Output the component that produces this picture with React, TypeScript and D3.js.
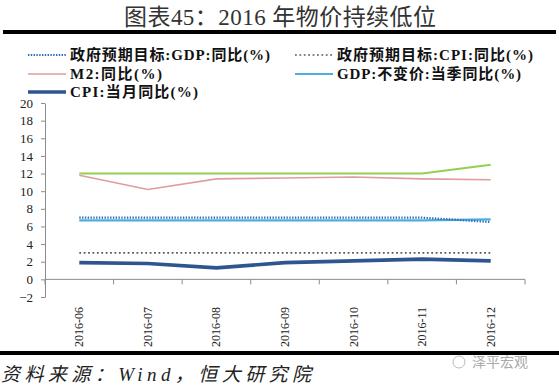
import React, { useEffect, useRef } from 'react'
import * as d3 from 'd3'

const months = ['2016-06', '2016-07', '2016-08', '2016-09', '2016-10', '2016-11', '2016-12']
const gdpTarget = [7, 7, 7, 7, 7, 7, 6.5]
const cpiTarget = [3, 3, 3, 3, 3, 3, 3]
const m2 = [11.8, 10.2, 11.4, 11.5, 11.6, 11.4, 11.3]
const gdp = [6.7, 6.7, 6.7, 6.7, 6.7, 6.7, 6.8]
const cpi = [1.9, 1.8, 1.3, 1.9, 2.1, 2.3, 2.1]
const m2Target = [12, 12, 12, 12, 12, 12, 13]
const yTicks = [-2, 0, 2, 4, 6, 8, 10, 12, 14, 16, 18, 20]

const serif = '"Liberation Serif", "Times New Roman", "Noto Sans CJK SC", serif'

export default function App() {
  const ref = useRef<SVGSVGElement>(null)

  useEffect(() => {
    const svg = d3.select(ref.current)
    svg.selectAll('*').remove()

    const width = 559
    const height = 387

    const x = d3.scaleBand().domain(months).range([45, 525]).padding(0)
    const y = d3.scaleLinear().domain([-2, 20]).range([297, 103])
    const cx = (d: string) => (x(d) as number) + x.bandwidth() / 2

    svg.attr('width', width).attr('height', height)

    /* Title */
    svg.append('text')
      .attr('x', 280).attr('y', 25)
      .attr('text-anchor', 'middle')
      .attr('font-family', serif)
      .attr('font-size', 23)
      .attr('fill', '#333')
      .attr('textLength', 312)
      .text('图表45：2016 年物价持续低位')
    svg.append('rect').attr('x', 3).attr('y', 30).attr('width', 553).attr('height', 4).attr('fill', '#000')

    /* Y axis */
    const yAxis = d3.axisLeft(y).tickValues(yTicks).tickSize(4).tickSizeOuter(0)
    const gy = svg.append('g').attr('transform', 'translate(45,0)').call(yAxis)
    gy.select('.domain').attr('stroke', '#8c8c8c')
    gy.selectAll('.tick line').attr('stroke', '#8c8c8c')
    gy.selectAll('.tick text')
      .attr('font-family', serif).attr('font-size', 13).attr('fill', '#222')
      .attr('x', -12)

    /* zero line + x ticks */
    const y0 = y(0)
    svg.append('line').attr('x1', 45).attr('x2', 525).attr('y1', y0).attr('y2', y0).attr('stroke', '#8c8c8c')
    const bounds = months.map((m) => x(m) as number).concat([525])
    svg.append('g').selectAll('line').data(bounds).enter().append('line')
      .attr('x1', (d) => d).attr('x2', (d) => d)
      .attr('y1', y0).attr('y2', y0 + 5)
      .attr('stroke', '#8c8c8c')
    svg.append('g').selectAll('text').data(months).enter().append('text')
      .attr('transform', (d) => `translate(${cx(d) + 4},307) rotate(-90)`)
      .attr('text-anchor', 'end')
      .attr('font-family', serif).attr('font-size', 12).attr('fill', '#222')
      .text((d) => d)

    /* Lines */
    const line = (vals: number[]) =>
      d3.line<number>().x((_, i) => cx(months[i])).y((d) => y(d))(vals)

    const series = [
      { vals: m2Target, color: '#92d050', w: 2, dash: null },
      { vals: m2, color: '#e09c9c', w: 1.6, dash: null },
      { vals: gdp, color: '#4aaee0', w: 2.2, dash: null },
      { vals: gdpTarget, color: '#2e6db4', w: 2.2, dash: '1.4 1.4' },
      { vals: cpiTarget, color: '#5c5c4c', w: 1.8, dash: '1.8 2.6' },
      { vals: cpi, color: '#2f5590', w: 3.6, dash: null },
    ]
    series.forEach((s) => {
      svg.append('path')
        .attr('d', line(s.vals))
        .attr('fill', 'none')
        .attr('stroke', s.color)
        .attr('stroke-width', s.w)
        .attr('stroke-dasharray', s.dash)
    })

    /* Legend */
    const legend = [
      { label: '政府预期目标:GDP:同比(%)', color: '#2e6db4', w: 2, dash: '1.4 1.4', x: 28, y: 55, len: 200 },
      { label: '政府预期目标:CPI:同比(%)', color: '#5c5c4c', w: 1.6, dash: '1.8 2.6', x: 295, y: 55, len: 196 },
      { label: 'M2:同比(%)', color: '#e09c9c', w: 1.6, dash: null, x: 28, y: 74, len: 92 },
      { label: 'GDP:不变价:当季同比(%)', color: '#4aaee0', w: 2.2, dash: null, x: 295, y: 74, len: 184 },
      { label: 'CPI:当月同比(%)', color: '#2f5590', w: 3.6, dash: null, x: 28, y: 92, len: 128 },
    ]
    const lg = svg.append('g').selectAll('g').data(legend).enter().append('g')
    lg.append('line')
      .attr('x1', (d) => d.x).attr('x2', (d) => d.x + 38)
      .attr('y1', (d) => d.y).attr('y2', (d) => d.y)
      .attr('stroke', (d) => d.color)
      .attr('stroke-width', (d) => d.w)
      .attr('stroke-dasharray', (d) => d.dash)
    lg.append('text')
      .attr('x', (d) => d.x + 42).attr('y', (d) => d.y + 5)
      .attr('font-family', serif).attr('font-size', 15).attr('font-weight', 'bold')
      .attr('fill', '#111')
      .attr('textLength', (d) => d.len)
      .text((d) => d.label)

    /* Footer */
    svg.append('rect').attr('x', 0).attr('y', 351).attr('width', 559).attr('height', 4).attr('fill', '#000')
    svg.append('text')
      .attr('x', 1).attr('y', 381)
      .attr('font-family', serif).attr('font-size', 19).attr('font-style', 'italic')
      .attr('fill', '#222')
      .attr('textLength', 310)
      .text('资料来源：Wind，恒大研究院')
    svg.append('circle').attr('cx', 459).attr('cy', 362).attr('r', 6).attr('fill', 'none').attr('stroke', '#bbb')
    svg.append('text')
      .attr('x', 472).attr('y', 367)
      .attr('font-family', '"Noto Sans CJK SC", sans-serif').attr('font-size', 14)
      .attr('fill', '#aaa')
      .text('泽平宏观')
  }, [])

  return (
    <svg ref={ref} style={{ position: 'absolute', left: 0, top: 0, background: '#fff' }}></svg>
  )
}
